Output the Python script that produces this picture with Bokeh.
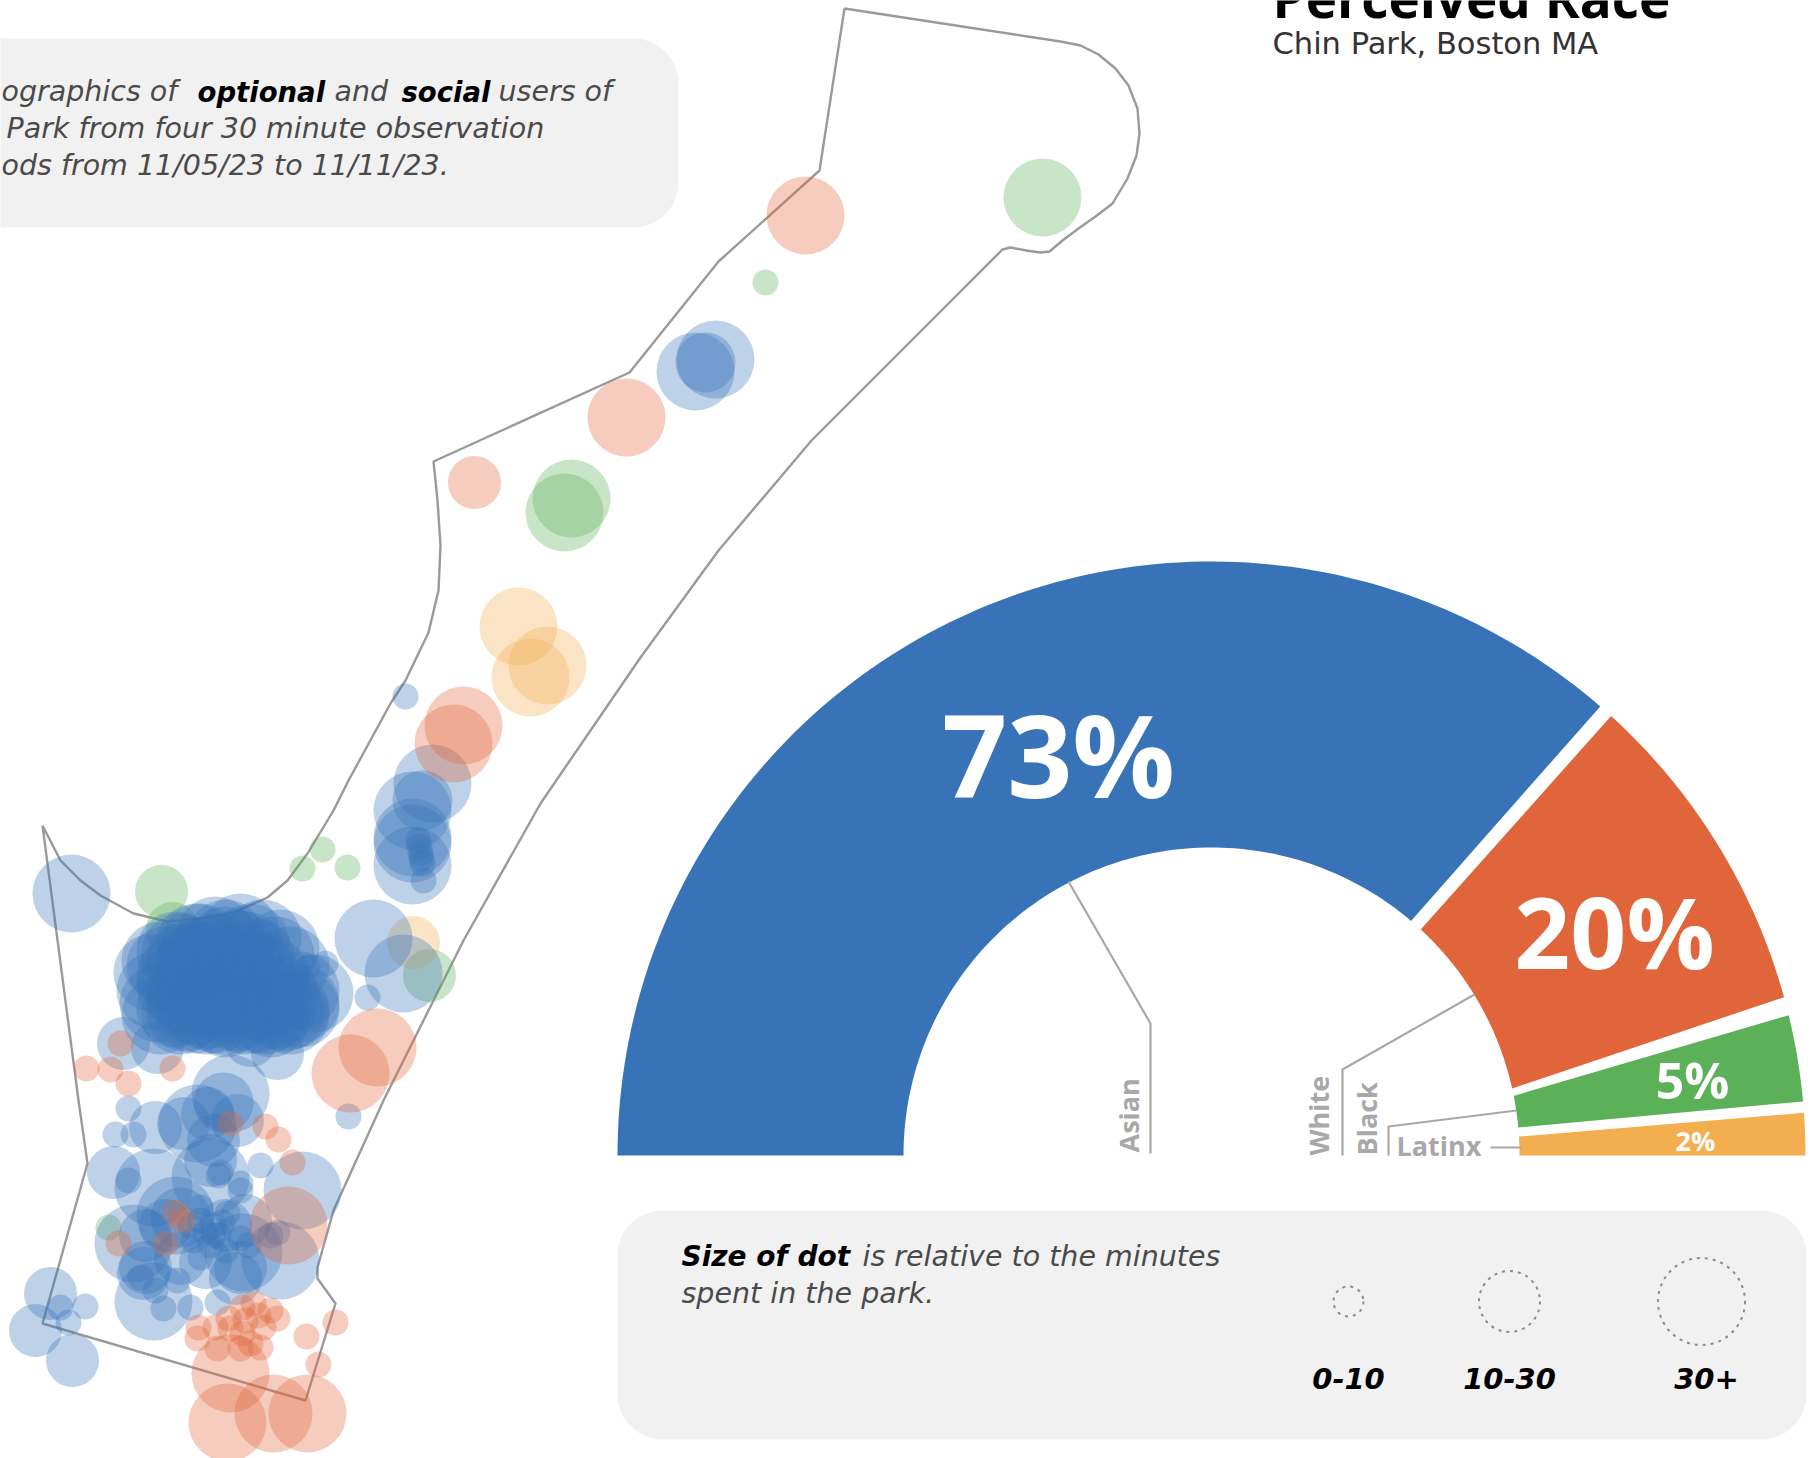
import numpy as np
from bokeh.plotting import figure
from bokeh.models import Range1d
from bokeh.embed import file_html
from bokeh.resources import INLINE
from bokeh.core.properties import value

W, H = 1817, 1458
SANS = "DejaVu Sans"
BODY = "Open Sans"

# ---- data ----
race_labels = ["Asian", "White", "Black", "Latinx"]
race_pct_labels = ["73%", "20%", "5%", "2%"]
race_shares = [73.1, 19.7, 4.8, 2.4]
race_colors = ["#3873B8", "#E0653A", "#5CB058", "#F3AE50"]

size_labels = ["0-10", "10-30", "30+"]
size_radius = [15, 30.5, 43.5]

park_x = [844,1060,1080,1098,1115,1128,1137,1139,1136,1127,1112,1095,1078,1062,1049,1040,1026,1010,1002,927,811,718,640,540,463,383,333,317,317,335,305,42,87,78,42,60,80,100,133,167,200,233,267,287,307,333,348,390,405,428,438,440,437,433,629,718,819,844]
park_y = [8,41,45,54,68,85,108,133,155,178,203,216,228,240,251,252,250,247,249,324,440,550,657,803,940,1100,1210,1267,1278,1303,1400,1323,1163,1100,825,860,880,895,913,921,918,912,897,880,853,810,780,703,680,632,590,545,500,461,372,261,170,8]

# blue dots, one pair of lists per dot size
blue_xl_x = [715,695,432,412,412,412,412,71,373,403,230,197,153,210,302,280,133,243,153,175,
             240,215,262,195,280,175,225,245,205,185,165,152,155,158,175,195,215,235,255,270,175,195,215,235,255,195,215,235,255,275,290,300,314,280,300,290,270,225,180,160,205,225,245,185,205,
             200,225,250,180,275,160,215,235,195,255,175,290,300,285,265,245,205,225,185]
blue_xl_y = [359,371,783,810,837,843,865,893,938,973,1093,1123,1187,1177,1190,1260,1243,1252,1301,1215,
             932,935,938,942,948,950,945,950,955,960,965,972,990,1003,985,975,970,968,970,975,1008,1005,1000,995,1000,1014,1014,1012,1014,1010,1010,1003,993,995,990,1015,1018,1018,1015,1015,990,985,990,995,1010,
             942,938,942,952,955,960,952,948,960,957,975,965,1008,1012,1015,1015,1015,1016,1012]
blue_l_x = [705,422,223,180]
blue_l_y = [362,800,1102,1217]
blue_m_x = [157,123,277,250,183,207,237,213,155,113,210,145,145,240,235,50,35,72,143,205,180,165,225,245]
blue_m_y = [1047,1043,1053,1040,1123,1113,1120,1140,1127,1172,1160,1235,1267,1267,1278,1293,1330,1360,1273,1262,1258,1225,1225,1220]
blue_s_x = [405,418,420,422,423,419,421,325,307,367,348,128,115,133,260,220,240,128,218,240,200,227,218,213,193,140,155,177,200,163,190,217,270,277,60,85,68,213,222,205,210,225,240,248,190,200]
blue_s_y = [696,840,853,863,880,846,858,963,967,997,1116,1108,1134,1134,1165,1172,1183,1180,1175,1190,1207,1213,1235,1235,1240,1277,1290,1280,1257,1308,1307,1302,1235,1232,1307,1306,1322,1225,1222,1232,1245,1250,1238,1245,1225,1220]

orange_xl_x = [805,626,463,453,377,350,288,230,227,273,307]
orange_xl_y = [215,417,725,743,1047,1073,1225,1373,1422,1413,1413]
orange_m_x = [474]
orange_m_y = [482]
orange_s_x = [86,110,128,172,120,230,265,278,292,175,182,118,165,335,306,318,277,198,197,215,217,230,240,242,250,260,263,242,253,270,228,245,258]
orange_s_y = [1068,1069,1083,1068,1043,1123,1126,1139,1162,1212,1220,1243,1243,1322,1336,1364,1318,1327,1338,1327,1348,1328,1348,1333,1343,1347,1327,1307,1303,1310,1318,1320,1315]

green_xl_x = [1042,571,564]
green_xl_y = [197,498,512]
green_m_x = [161,172,429]
green_m_y = [891,928,975]
green_s_x = [765,322,302,347,108]
green_s_y = [282,849,868,867,1227]

yellow_xl_x = [518,530,547]
yellow_xl_y = [626,677,665]
yellow_m_x = [413]
yellow_m_y = [942]

# ---- figure ----
p = figure(width=W, height=H, output_backend="svg", toolbar_location=None,
           x_range=Range1d(0, W), y_range=Range1d(H, 0),
           min_border=0, background_fill_color="white")
p.xaxis.visible = False
p.yaxis.visible = False
p.grid.visible = False
p.outline_line_color = None

# panels
p.quad(left=[-60, 617], right=[678, 1806], top=[38, 1210], bottom=[227, 1439],
       fill_color="#F1F1F1", line_color=None, border_radius=45)

# park outline
p.line(park_x, park_y, line_color="#9A9A9A", line_width=2.4)

# dots
XL, L, M, S = 39, 30, 26.5, 13
def dots(x, y, r, c):
    p.circle(x, y, radius=r, fill_color=c, fill_alpha=0.33, line_color=None)

dots(green_xl_x, green_xl_y, XL, race_colors[2])
dots(green_m_x, green_m_y, M, race_colors[2])
dots(green_s_x, green_s_y, S, race_colors[2])
dots(yellow_xl_x, yellow_xl_y, XL, race_colors[3])
dots(yellow_m_x, yellow_m_y, M, race_colors[3])
dots(blue_xl_x, blue_xl_y, XL, race_colors[0])
dots(blue_l_x, blue_l_y, L, race_colors[0])
dots(blue_m_x, blue_m_y, M, race_colors[0])
dots(blue_s_x, blue_s_y, S, race_colors[0])
dots(orange_xl_x, orange_xl_y, XL, race_colors[1])
dots(orange_m_x, orange_m_y, M, race_colors[1])
dots(orange_s_x, orange_s_y, S, race_colors[1])

# half donut
CX, CY, R0, R1 = 1211, 1155, 308, 594
cum = 180 - 1.8 * np.cumsum(race_shares)
edges = np.r_[180.0, cum]
# the white gaps are not quite radial: angle shift at (inner, outer) radius
start_shift = [(0, 0), (-1.2, -0.7), (-1.8, 0.7), (-0.8, -0.2)]
end_shift = [(1.2, 0.7), (-0.4, 2.5), (0.9, 0.9), (0, 0)]
xs_w, ys_w = [], []
for i in range(4):
    a0i = edges[i] + start_shift[i][0]
    a0o = edges[i] + start_shift[i][1]
    a1i = edges[i + 1] + end_shift[i][0]
    a1o = edges[i + 1] + end_shift[i][1]
    ao = np.radians(np.linspace(a0o, a1o, 120))
    ai = np.radians(np.linspace(a1i, a0i, 120))
    xs_w.append(np.r_[CX + R1 * np.cos(ao), CX + R0 * np.cos(ai)])
    ys_w.append(np.r_[CY - R1 * np.sin(ao), CY - R0 * np.sin(ai)])
p.patches(xs_w, ys_w, fill_color=race_colors, line_color=None)

# leaders
GREY = "#A8A8A8"
p.multi_line([[1068, 1150, 1150], [1474, 1342, 1342], [1516, 1388, 1388], [1490, 1522]],
             [[881, 1023, 1153], [994, 1069, 1155], [1110, 1126, 1155], [1147, 1147]],
             line_color=GREY, line_width=2.2)
t_kw = dict(text_font=value(BODY), text_font_style="bold", text_color=GREY, text_font_size="27px")
p.text([1128, 1318, 1366], [1152, 1155, 1155], text=race_labels[:3], angle=np.pi / 2,
       text_align="left", text_baseline="alphabetic", **t_kw)
p.text([1396], [1145], text=race_labels[3:], text_align="left", text_baseline="alphabetic", **t_kw)

# percent labels
for x, y, s, fs in zip([1058, 1614, 1692, 1695], [753, 930, 1079, 1140], race_pct_labels,
                       ["114px", "98px", "50px", "27px"]):
    p.text([x], [y], text=[s], text_align="center", text_baseline="middle", text_color="white",
           text_font=value(BODY), text_font_style="bold", text_font_size=fs)

# title
p.text([1272], [-3], text=["Perceived Race"], text_font=value(BODY), text_font_style="bold",
       text_font_size="53px", text_color="black", text_baseline="alphabetic")
p.text([1272], [43], text=["Chin Park, Boston MA"], text_font=value(SANS), text_font_size="30.5px",
       text_color="#333333", text_baseline="alphabetic")

# note runs
def run(x, y, s, bold=False, size="28.5px"):
    p.text([x], [y], text=[s], text_baseline="alphabetic", text_color="#000000" if bold else "#4A4A4A",
           text_font=value(SANS),
           text_font_style="bold italic" if bold else "italic", text_font_size=size)

run(1, 91, "ographics of")
run(197, 91, "optional", True, "27.5px")
run(334, 91, "and")
run(401, 91, "social", True, "27.5px")
run(498, 91, "users of")
run(6, 128, "Park from four 30 minute observation")
run(1, 165, "ods from 11/05/23 to 11/11/23.")
run(681, 1256, "Size of dot", True, "28px")
run(862, 1256, "is relative to the minutes")
run(681, 1293, "spent in the park.")

# size legend
p.circle([1348, 1509, 1701], [1301, 1301, 1301], radius=size_radius, fill_color=None,
         line_color="#8C8C8C", line_width=2, line_dash="3 5")
p.text([1348, 1509, 1706], [1378, 1378, 1378], text=size_labels, text_align="center",
       text_baseline="alphabetic", text_color="black", text_font=value(SANS),
       text_font_style="bold italic", text_font_size="29px")

open("out.html", "w").write(file_html(p, INLINE))
